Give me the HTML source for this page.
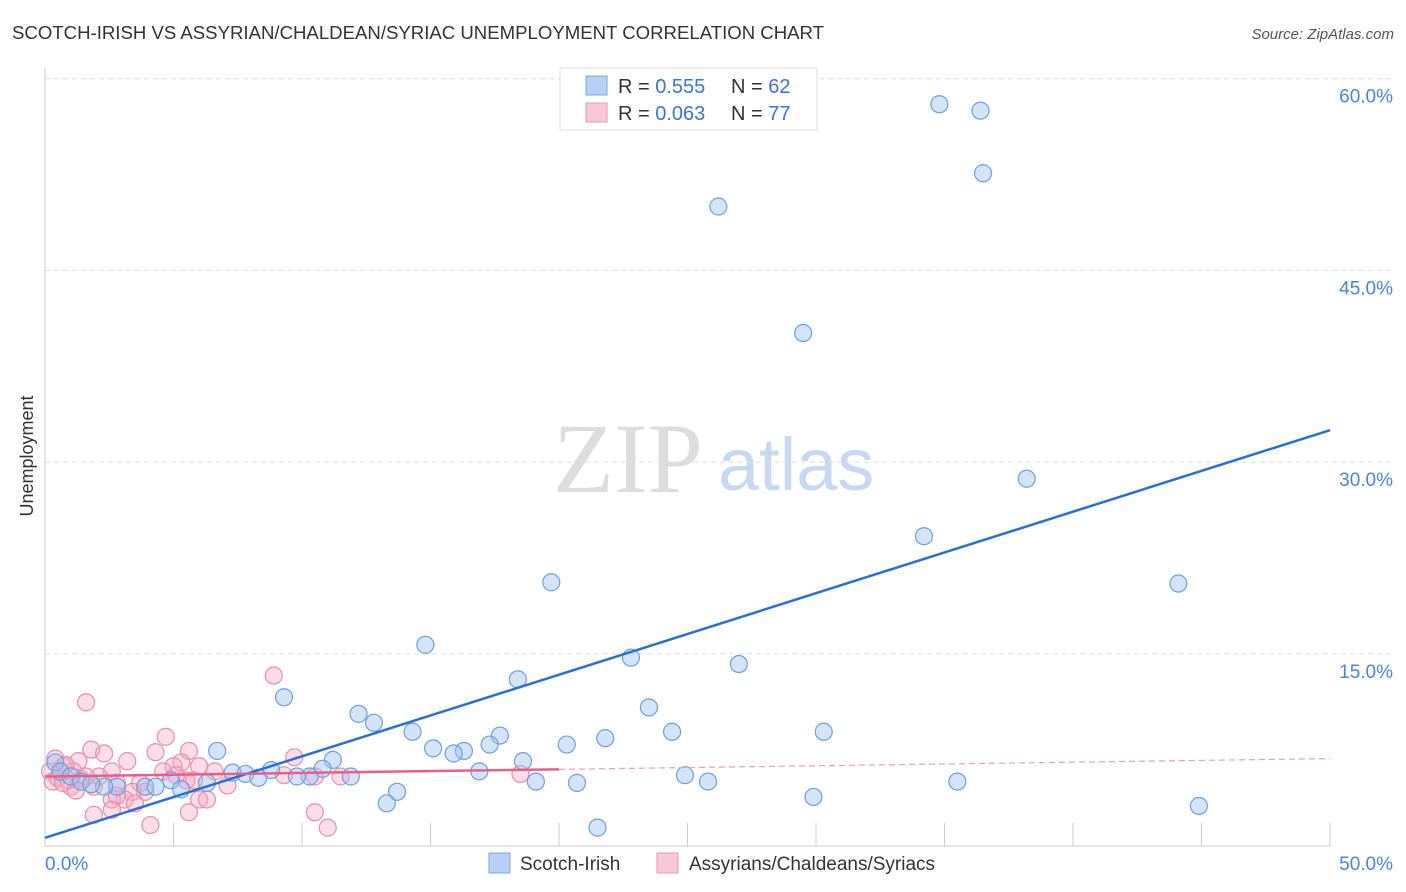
<!DOCTYPE html>
<html><head><meta charset="utf-8"><style>
body{margin:0;background:#fff;font-family:"Liberation Sans",sans-serif;}
svg{display:block}
</style></head><body>
<svg id="chart" width="1406" height="892">
<text x="12" y="39" font-size="18" fill="#333" textLength="812" lengthAdjust="spacingAndGlyphs">SCOTCH-IRISH VS ASSYRIAN/CHALDEAN/SYRIAC UNEMPLOYMENT CORRELATION CHART</text>
<text x="1394" y="39" font-size="15" fill="#555" text-anchor="end" font-style="italic">Source: ZipAtlas.com</text>
<text transform="translate(33,456) rotate(-90)" font-size="18" fill="#333" text-anchor="middle">Unemployment</text>
<text x="553" y="492" font-size="100" fill="#ddd" font-family="Liberation Serif,serif">ZIP</text>
<text x="718" y="490" font-size="74" fill="#c8d8f0">atlas</text>
<g id="grid"></g><g id="pts"></g><g id="trend"></g>
<g>
<rect x="560" y="68" width="257" height="62" fill="#fff" stroke="#ddd"/>
<rect x="586" y="76" width="21" height="19" fill="#b8d0f4" stroke="#7aa6e0"/>
<rect x="586" y="103" width="21" height="19" fill="#f8c8d6" stroke="#e896b0"/>
<text x="618" y="93" font-size="20" fill="#333">R = <tspan fill="#3a74d8">0.555</tspan></text>
<text x="731" y="93" font-size="20" fill="#333">N = <tspan fill="#3a74d8">62</tspan></text>
<text x="618" y="120" font-size="20" fill="#333">R = <tspan fill="#3a74d8">0.063</tspan></text>
<text x="731" y="120" font-size="20" fill="#333">N = <tspan fill="#3a74d8">77</tspan></text>
</g>
<g>
<rect x="489" y="853" width="21" height="20" fill="#b8d0f4" stroke="#7aa6e0"/>
<text x="520" y="870" font-size="19" fill="#333">Scotch-Irish</text>
<rect x="657" y="853" width="21" height="20" fill="#f8c8d6" stroke="#e896b0"/>
<text x="689" y="870" font-size="19" fill="#333">Assyrians/Chaldeans/Syriacs</text>
</g>
</svg>
<script>
const xTicks=[0,50];
const yTicks=[15,30,45,60];
const blueX=[34.8,36.4,36.5,26.2,29.5,38.2,34.2,19.7,44.1,14.8,22.8,27,18.4,9.3,23.5,12.2,12.8,24.4,30.3,14.3,17.7,21.8,15.1,20.3,6.7,16.3,15.9,17.3,11.2,18.6,8.8,7.3,7.8,10.8,10.3,9.8,11.9,16.9,24.9,8.3,19.1,20.7,25.8,35.5,6.3,4.9,5.3,3.9,4.3,2.8,2.3,13.7,29.9,13.3,44.9,21.5,0.4,0.6,1,1.4,1.8];
const blueY=[58,57.5,52.6,50,40.1,28.7,24.2,20.6,20.5,15.7,14.7,14.2,13,11.6,10.8,10.3,9.6,8.9,8.9,8.9,8.6,8.4,7.6,7.9,7.4,7.4,7.2,7.9,6.7,6.6,5.9,5.7,5.6,6,5.4,5.4,5.4,5.8,5.5,5.3,5,4.9,5,5,4.9,5.1,4.4,4.6,4.6,4.6,4.6,4.2,3.8,3.3,3.1,1.4,6.5,5.8,5.4,5,4.8];
const pinkX=[1.6,8.9,4.7,5.6,4.3,1.8,3.2,9.7,2.3,5.3,6,5,6.6,2.6,1.3,0.7,0.6,0.2,0.3,1,1.4,1.9,2.1,3.7,3.9,2.8,3.4,3.1,2.6,3.5,6,7.1,5.5,5.1,4.6,10.5,11.5,18.5,5.8,2.8,1.9,2.6,4.1,5.6,6.3,10.5,11,9.3,0.5,0.9,1.1,1.6,1.2,0.7,0.4,0.8];
const pinkY=[11.2,13.3,8.5,7.4,7.3,7.5,6.6,6.9,7.2,6.5,6.2,6.2,5.8,5.8,6.6,6.2,5.7,5.8,5,4.6,5.2,4.6,5.4,4.9,4.2,4.9,4.2,3.6,3.6,3.3,3.6,4.7,5.1,5.5,5.8,5.4,5.4,5.6,5.1,3.9,2.4,2.8,1.6,2.6,3.6,2.6,1.4,5.5,5.3,5.1,5.8,5.4,4.3,4.9,6.8,6.3];
const blueTrend=[0.6,32.5];
const pinkTrend=[5.4,6.8];
const X=v=>45+v*25.7, Y=v=>845.5-v*12.78;
const NS="http://www.w3.org/2000/svg";
function mk(t,a,p){const e=document.createElementNS(NS,t);for(const k in a)e.setAttribute(k,a[k]);p.appendChild(e);return e;}
const grid=document.getElementById('grid');
yTicks.forEach(v=>{
 const l=mk('line',{x1:45,x2:1394,y1:Y(v),y2:Y(v),stroke:'#ddd','stroke-dasharray':'5,4'},grid);
 
 
 const t=mk('text',{x:1393,y:Y(v)+24,'font-size':19,fill:'#4a84e0','text-anchor':'end'},grid);t.textContent=v.toFixed(1)+'%';
 
 
});
mk('line',{x1:45,x2:45,y1:68,y2:846,stroke:'#ccc'},grid);
mk('line',{x1:45,x2:1330,y1:846,y2:846,stroke:'#ccc'},grid);
for(let i=1;i<=10;i++){const tk=mk('line',{x1:X(i*5),x2:X(i*5),y1:823,y2:846,stroke:'#ccc'},grid);
 
 }
xTicks.forEach((v,i)=>{const t=mk('text',{x:i?1393:45,y:870,'font-size':19,fill:'#4a84e0','text-anchor':i?'end':'start'},grid);t.textContent=v.toFixed(1)+'%';
 
 });
const pts=document.getElementById('pts');
pinkX.forEach((x,i)=>{const c=mk('circle',{cx:X(x),cy:Y(pinkY[i]),r:8.5,fill:'rgba(245,170,195,0.4)',stroke:'#e88eab','stroke-width':1.2},pts);
 
 });
blueX.forEach((x,i)=>{const c=mk('circle',{cx:X(x),cy:Y(blueY[i]),r:8.5,fill:'rgba(160,195,240,0.45)',stroke:'#6f9fdf','stroke-width':1.2},pts);
 
 });
const tr=document.getElementById('trend');
const bl=mk('line',{x1:X(0),y1:Y(blueTrend[0]),x2:X(50),y2:Y(blueTrend[1]),stroke:'#2a6fd6','stroke-width':2.5},tr);


const pm=v=>pinkTrend[0]+(pinkTrend[1]-pinkTrend[0])*v/50;
const pl=mk('line',{x1:X(0),y1:Y(pm(0)),x2:X(20),y2:Y(pm(20)),stroke:'#e8608a','stroke-width':2.5},tr);


const pd=mk('line',{x1:X(20),y1:Y(pm(20)),x2:X(50),y2:Y(pm(50)),stroke:'#e8a0b8','stroke-width':1.2,'stroke-dasharray':'6,4'},tr);


</script>
</body></html>
